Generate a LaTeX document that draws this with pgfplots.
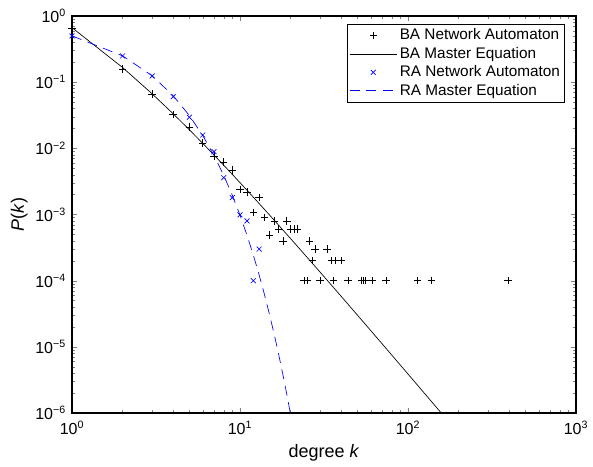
\documentclass[border=0pt]{standalone}
\usepackage{pgfplots}
\pgfplotsset{compat=1.18}
\usepackage{fontspec}
\setmainfont{Liberation Sans}
\begin{document}
\begin{tikzpicture}[x=0.75pt,y=0.75pt]
\begin{axis}[
    name=ax,
    scale only axis,
    width=378pt, height=297.75pt,
    xmode=log, ymode=log,
    xmin=1, xmax=1000, ymin=1e-6, ymax=1,
    xtick={1,10,100,1000},
    xticklabels={10\textsuperscript{0},10\textsuperscript{1},10\textsuperscript{2},10\textsuperscript{3}},
    ytick={1e-6,1e-5,1e-4,1e-3,1e-2,1e-1,1},
    yticklabels={10\textsuperscript{−6},10\textsuperscript{−5},10\textsuperscript{−4},10\textsuperscript{−3},10\textsuperscript{−2},10\textsuperscript{−1},10\textsuperscript{0}},
    tick label style={font=\fontsize{12}{14}\selectfont},
    xticklabel style={yshift=-2.5pt},
    yticklabel style={xshift=-1pt},
    label style={font=\fontsize{13.5}{16}\selectfont},
    xlabel={degree \textit{k}},
    ylabel={\textit{P}(\textit{k})},
    xlabel style={yshift=-1pt},
    ylabel style={yshift=-1pt},
    tick align=inside,
    major tick length=4pt, minor tick length=2.2pt,
    axis line style={line width=0.8pt},
    legend cell align=left,
    legend style={at={(0.978,0.98)}, anchor=north east, draw=black,
        font=\fontsize{11.5}{13.5}\selectfont, inner sep=1.5pt},
    legend image code/.code={\draw[mark repeat=2,mark phase=2,#1] plot coordinates {(0cm,0cm) (0.62cm,0cm) (1.24cm,0cm)};},
]
% BA network automaton
\addplot[only marks, mark=+, mark size=2.8pt, black, line width=0.5pt] coordinates {
(1,0.66)(2,0.158)(3,0.066)(4,0.0327)(5,0.021)(6,0.012)(7,0.0076)(8,0.0062)
(9,0.0047)(10,0.0024)(11,0.0022)(12,0.00108)(13,0.0018)(14,0.0009)(15,0.00049)
(16,0.0008)(17,0.0006)(18,0.0004)(19,0.0008)(20,0.0006)(21,0.0006)(22,0.0006)
(26,0.0004)(27,0.0002)(28,0.0003)(33,0.0003)(35,0.0002)(37,0.0002)(40,0.0002)
(24,1e-4)(25,1e-4)(30,1e-4)(36,1e-4)(44,1e-4)(53,1e-4)(54,1e-4)(56,1e-4)
(61,1e-4)(74,1e-4)(114,1e-4)(138,1e-4)(395,1e-4)
};
\addlegendentry{BA Network Automaton}
% BA master equation
\addplot[black, line width=0.5pt, no marks] coordinates {
(1,0.66667)(2,0.16667)(3,0.066667)(4,0.033333)(5,0.019048)(6,0.011905)
(7,0.0079365)(8,0.0055556)(9,0.0040404)(10,0.0030303)(12,0.0018315)
(15,0.00098039)(20,0.00043290)(30,0.00013441)(40,5.8072e-5)(50,3.0166e-5)
(70,1.1178e-5)(100,3.8828e-6)(150,1.1618e-6)(160,9.585e-7)
};
\addlegendentry{BA Master Equation}
% RA network automaton
\addplot[only marks, mark=x, mark size=2.6pt, blue, line width=0.5pt] coordinates {
(1,0.5)(2,0.249)(3,0.124)(4,0.0604)(5,0.0295)(6,0.0159)(7,0.0089)(8,0.0036)
(9,0.0018)(10,0.00099)(11,0.0008)(12,0.0001)(13,0.0003)
};
\addlegendentry{RA Network Automaton}
% RA master equation
\addplot[blue, line width=0.5pt, no marks, dash pattern=on 7.5pt off 5pt] coordinates {
(1,0.5)(2,0.25)(3,0.125)(4,0.0625)(5,0.03125)(6,0.015625)(7,0.0078125)
(8,0.0039063)(9,0.0019531)(10,0.00097656)(11,0.00048828)(12,0.00024414)
(13,0.00012207)(14,6.1035e-5)(15,3.0518e-5)(16,1.5259e-5)(17,7.6294e-6)
(18,3.8147e-6)(19,1.9073e-6)(20,9.5367e-7)(21,4.7684e-7)
};
\addlegendentry{RA Master Equation}
\end{axis}
\path (ax.south west) ++(-54pt,-36pt) rectangle ++(444.75pt,345.75pt);
\end{tikzpicture}
\end{document}
